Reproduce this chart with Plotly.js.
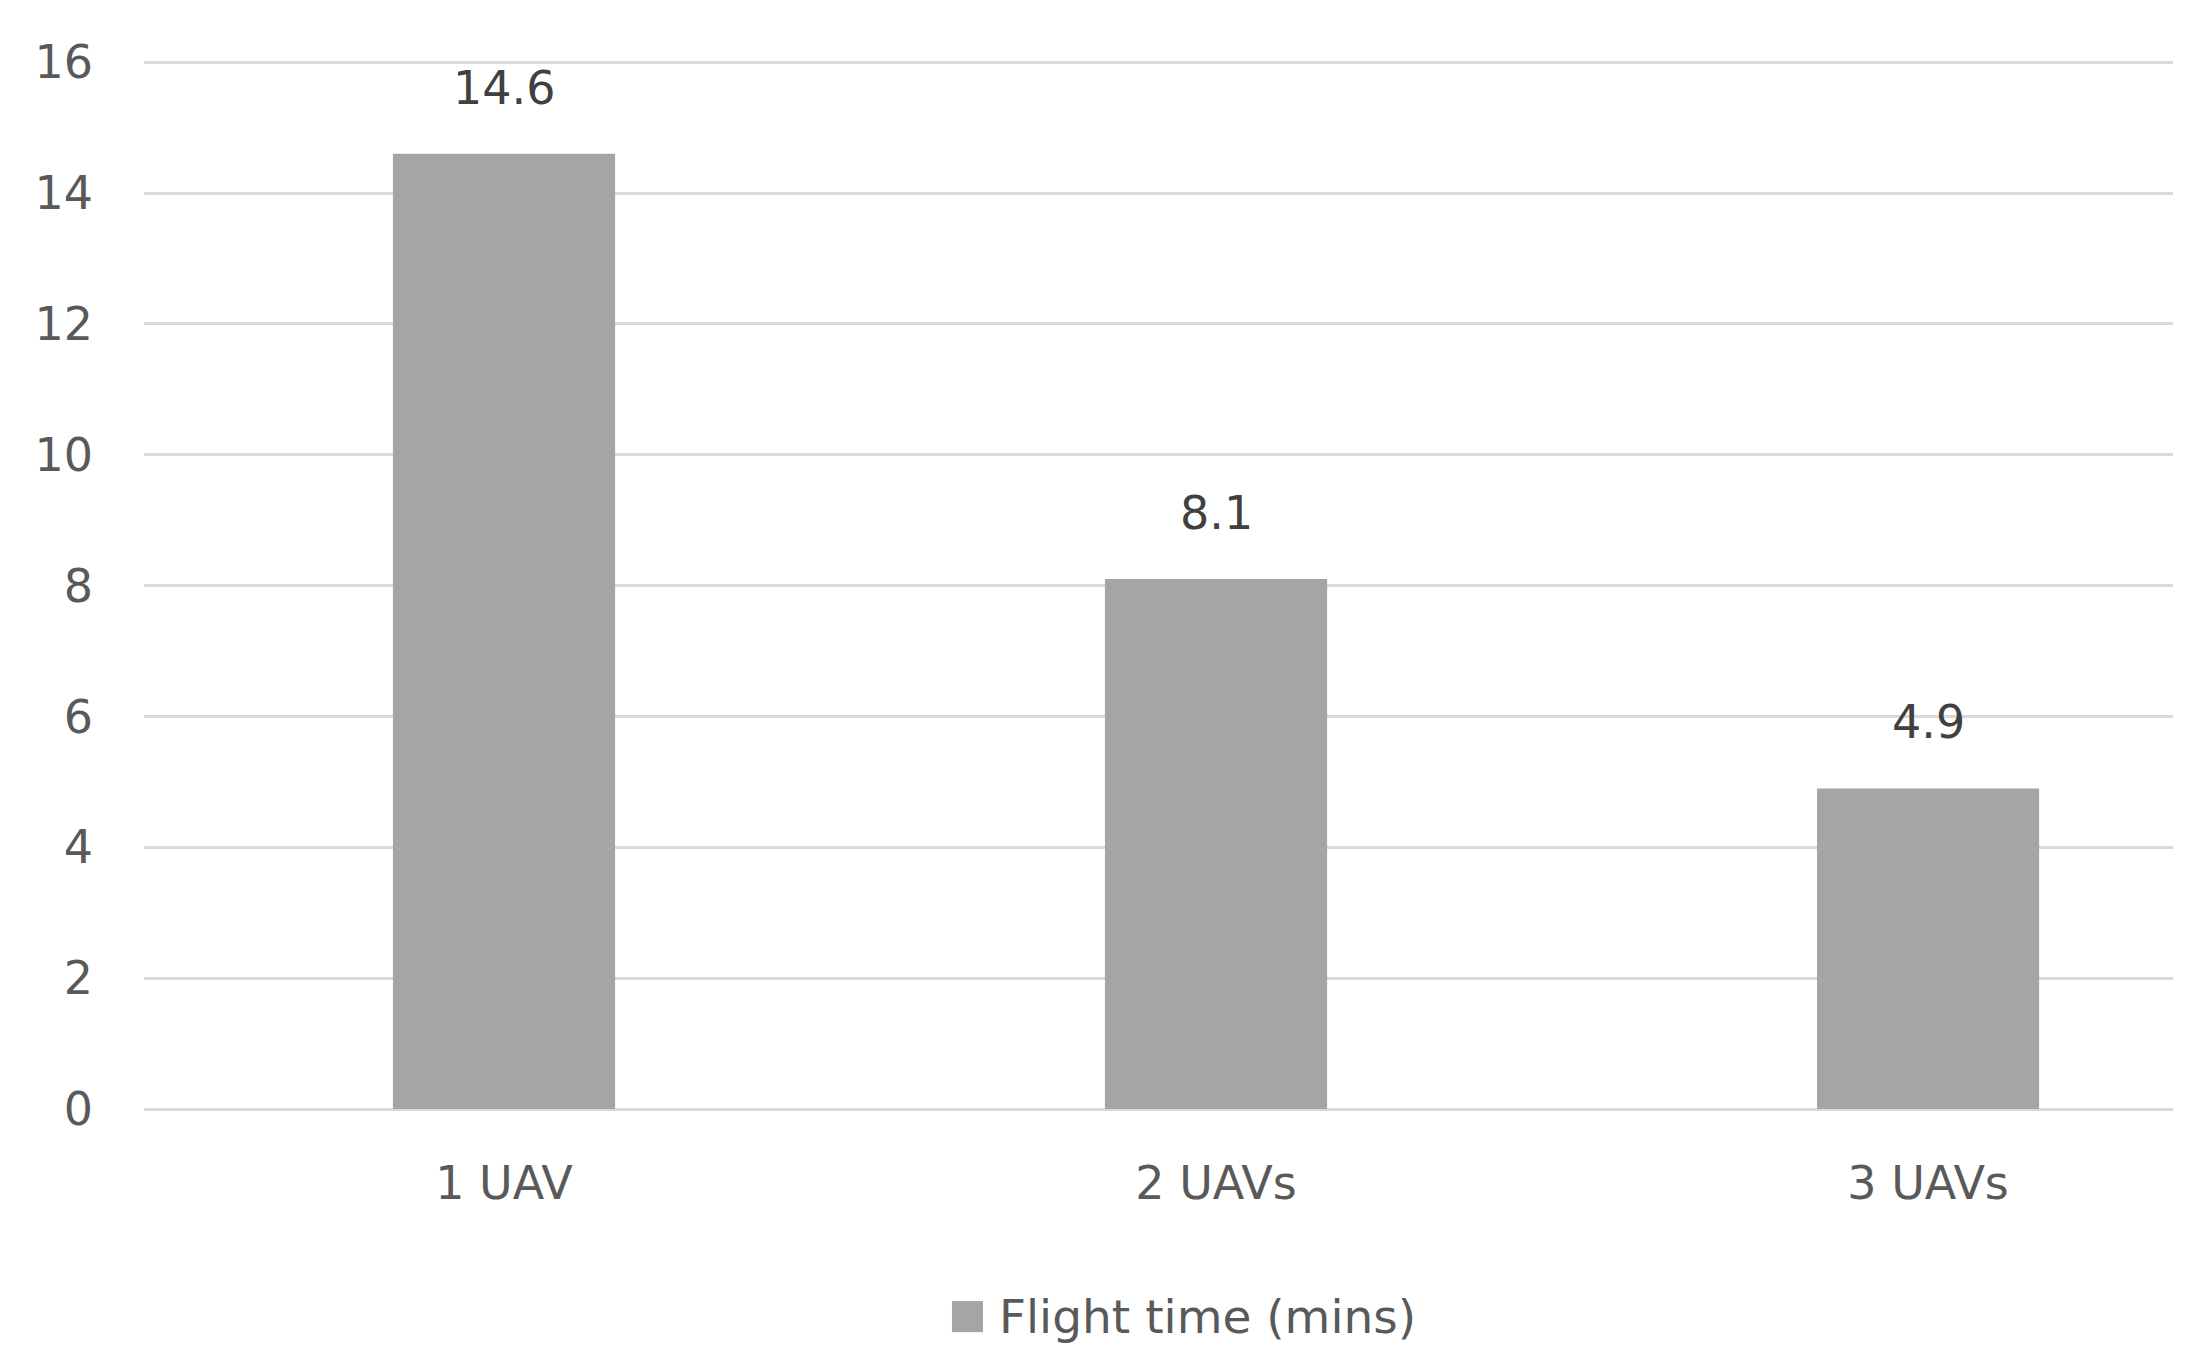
<!DOCTYPE html>
<html>
<head>
<meta charset="utf-8">
<script src="https://cdn.plot.ly/plotly-3.0.1.min.js"></script>
<style>html,body{margin:0;padding:0;background:#fff;}#chart{width:2196px;height:1364px;}</style>
</head>
<body>
<div id="chart"></div>
<script>
const categories = ["1 UAV", "2 UAVs", "3 UAVs"];
const flightTime = [14.6, 8.1, 4.9];
const seriesName = "Flight time (mins)";
const yTicks = [0, 2, 4, 6, 8, 10, 12, 14, 16];

const FONT = "DejaVu Sans, sans-serif";
const barColor = "#A5A5A5";

const trace = {
  type: "bar",
  x: categories,
  y: flightTime,
  name: seriesName,
  width: 0.312,
  marker: {color: barColor, line: {width: 0}},
  hoverinfo: "skip",
  showlegend: false
};

const annotations = categories.map((c, i) => ({
  x: c, y: flightTime[i], xref: "x", yref: "y",
  text: flightTime[i].toFixed(1),
  showarrow: false, yanchor: "bottom", yshift: 37,
  font: {family: FONT, size: 46, color: "#404040"}
}));
annotations.push({
  xref: "paper", yref: "paper", x: 0.4205, y: -0.1973,
  xanchor: "left", yanchor: "middle", showarrow: false,
  text: seriesName,
  font: {family: FONT, size: 47, color: "#595959"}
});

const layout = {
  width: 2196, height: 1364,
  paper_bgcolor: "#ffffff", plot_bgcolor: "#ffffff",
  margin: {l: 144, r: 23, t: 59, b: 255, pad: 0},
  showlegend: false,
  font: {family: FONT, size: 46, color: "#595959"},
  xaxis: {
    type: "category",
    range: [-0.5056, 2.344],
    showgrid: false, zeroline: false, showline: false,
    ticks: "", ticklabelstandoff: 43,
    tickfont: {family: FONT, size: 46, color: "#595959"},
    fixedrange: true
  },
  yaxis: {
    range: [0, 16.05],
    tickvals: yTicks,
    ticktext: yTicks.map(String),
    showgrid: true, gridcolor: "#D9D9D9", gridwidth: 3,
    zeroline: true, zerolinecolor: "#D9D9D9", zerolinewidth: 3,
    showline: false, ticks: "", ticklabelstandoff: 50,
    tickfont: {family: FONT, size: 46, color: "#595959"},
    fixedrange: true
  },
  shapes: [{
    type: "rect", xref: "paper", yref: "paper",
    x0: 0.3982, x1: 0.4135, y0: -0.1829, y1: -0.2125,
    fillcolor: barColor, line: {width: 0}
  }],
  annotations: annotations
};

Plotly.newPlot("chart", [trace], layout, {displayModeBar: false, staticPlot: true});
</script>
</body>
</html>
